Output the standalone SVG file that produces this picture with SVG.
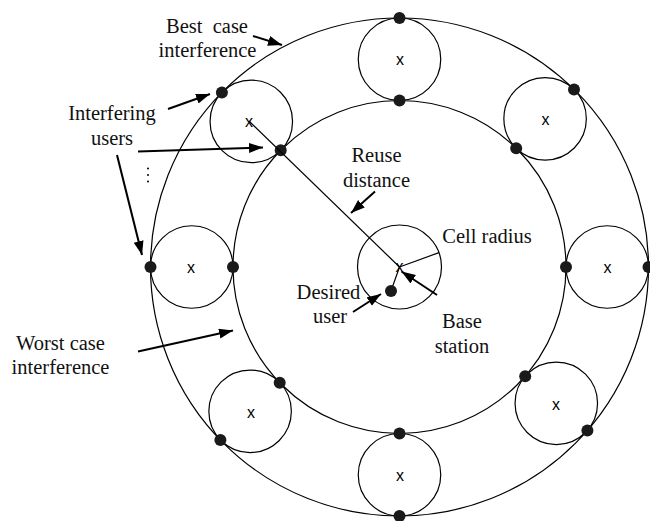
<svg xmlns="http://www.w3.org/2000/svg" width="650" height="521" viewBox="0 0 650 521">
  <defs>
    <marker id="arrow" markerUnits="userSpaceOnUse" markerWidth="16" markerHeight="12" refX="14" refY="5" orient="auto">
      <path d="M0,0 L14,5 L0,10 Z" fill="#000"/>
    </marker>
  </defs>
  <style>
    .ring { fill: none; stroke: #000; stroke-width: 1.2; }
    .cell { fill: none; stroke: #000; stroke-width: 1.2; }
    .dot { fill: #1a1a1a; }
    .mark { font-family: "Liberation Sans", Arial, sans-serif; font-size: 16px; text-anchor: middle; dominant-baseline: central; }
    .lbl { font-family: "Liberation Serif", "Times New Roman", serif; font-size: 20.5px; text-anchor: middle; fill: #111; }
    .ptr { stroke: #000; stroke-width: 2; fill: none; marker-end: url(#arrow); }
    .thin { stroke: #000; stroke-width: 1.2; fill: none; }
  </style>

  <rect width="650" height="521" fill="#fff"/>

  <!-- co-channel rings -->
  <g id="rings">
    <circle class="ring" cx="399.5" cy="267" r="249"/>
    <circle class="ring" cx="399.5" cy="267" r="166.5"/>
  </g>

  <!-- serving cell -->
  <g id="cell-center">
    <circle class="cell" cx="399.5" cy="267" r="42"/>
    <text class="mark" x="399.5" y="266" font-size="12">x</text>
    <line class="thin" x1="399.5" y1="267" x2="439" y2="252.6"/>
    <line class="thin" x1="399.5" y1="267" x2="391" y2="291"/>
    <circle class="dot" cx="391" cy="291" r="6"/>
  </g>

  <!-- interfering cells -->
  <g id="cell-top">
    <circle class="cell" cx="399.5" cy="59.25" r="41.25"/>
    <text class="mark" x="400" y="59">x</text>
    <circle class="dot" cx="399.5" cy="18" r="6"/>
    <circle class="dot" cx="399.5" cy="100.5" r="6"/>
  </g>
  <g id="cell-upper-right">
    <circle class="cell" cx="545.1" cy="118.8" r="41.25"/>
    <text class="mark" x="545.5" y="119">x</text>
    <circle class="dot" cx="574" cy="89.4" r="6"/>
    <circle class="dot" cx="516.2" cy="148.2" r="6"/>
  </g>
  <g id="cell-right">
    <circle class="cell" cx="607.25" cy="267" r="41.25"/>
    <text class="mark" x="607.5" y="267">x</text>
    <circle class="dot" cx="566" cy="267" r="6"/>
    <circle class="dot" cx="648.5" cy="267" r="6"/>
  </g>
  <g id="cell-lower-right">
    <circle class="cell" cx="556.3" cy="403.3" r="41.25"/>
    <text class="mark" x="556" y="404">x</text>
    <circle class="dot" cx="525.2" cy="376.2" r="6"/>
    <circle class="dot" cx="587.4" cy="430.4" r="6"/>
  </g>
  <g id="cell-bottom">
    <circle class="cell" cx="399.5" cy="474.75" r="41.25"/>
    <text class="mark" x="400" y="475">x</text>
    <circle class="dot" cx="399.5" cy="433.5" r="6"/>
    <circle class="dot" cx="399.5" cy="516" r="6"/>
  </g>
  <g id="cell-lower-left">
    <circle class="cell" cx="250.1" cy="411.3" r="41.25"/>
    <text class="mark" x="251" y="412">x</text>
    <circle class="dot" cx="279.7" cy="382.7" r="6"/>
    <circle class="dot" cx="220.4" cy="440" r="6"/>
  </g>
  <g id="cell-left">
    <circle class="cell" cx="191.75" cy="267" r="41.25"/>
    <text class="mark" x="191" y="267">x</text>
    <circle class="dot" cx="233" cy="267" r="6"/>
    <circle class="dot" cx="150.5" cy="267" r="6"/>
  </g>
  <g id="cell-upper-left">
    <circle class="cell" cx="251.3" cy="121.4" r="41.25"/>
    <text class="mark" x="249" y="121">x</text>
    <circle class="dot" cx="221.9" cy="92.5" r="6"/>
    <circle class="dot" cx="280.7" cy="150.3" r="6"/>
  </g>

  <!-- reuse distance: between cell centres -->
  <g id="connectors">
    <line class="thin" x1="249" y1="121" x2="399.5" y2="267"/>
    <line class="ptr" x1="253" y1="36" x2="282" y2="45"/>
    <line class="ptr" x1="168" y1="109" x2="210" y2="94"/>
    <line class="ptr" x1="138" y1="151.5" x2="263" y2="147.5"/>
    <line class="ptr" x1="117" y1="155" x2="142" y2="255"/>
    <line class="ptr" x1="138" y1="351.5" x2="233" y2="330.5"/>
    <line class="ptr" x1="375" y1="191.5" x2="351" y2="213"/>
    <line class="ptr" x1="353" y1="312" x2="381" y2="294"/>
    <line class="ptr" x1="437" y1="295" x2="401.5" y2="271.5"/>
  </g>

  <!-- ellipsis between interfering user pointers -->
  <g id="ellipsis" fill="#000">
    <circle cx="148" cy="168.5" r="1"/>
    <circle cx="148" cy="175" r="1"/>
    <circle cx="148" cy="181.5" r="1"/>
  </g>

  <!-- labels -->
  <g id="labels">
    <text class="lbl" x="207" y="33" xml:space="preserve">Best  case</text>
    <text class="lbl" x="207.5" y="57">interference</text>
    <text class="lbl" x="112" y="120">Interfering</text>
    <text class="lbl" x="112" y="145">users</text>
    <text class="lbl" x="60.5" y="350">Worst case</text>
    <text class="lbl" x="60.5" y="374">interference</text>
    <text class="lbl" x="376.5" y="161.5">Reuse</text>
    <text class="lbl" x="376.5" y="186.5">distance</text>
    <text class="lbl" x="487" y="242.5">Cell radius</text>
    <text class="lbl" x="328.5" y="299">Desired</text>
    <text class="lbl" x="330" y="323">user</text>
    <text class="lbl" x="462" y="328">Base</text>
    <text class="lbl" x="462" y="352.5">station</text>
  </g>
</svg>
